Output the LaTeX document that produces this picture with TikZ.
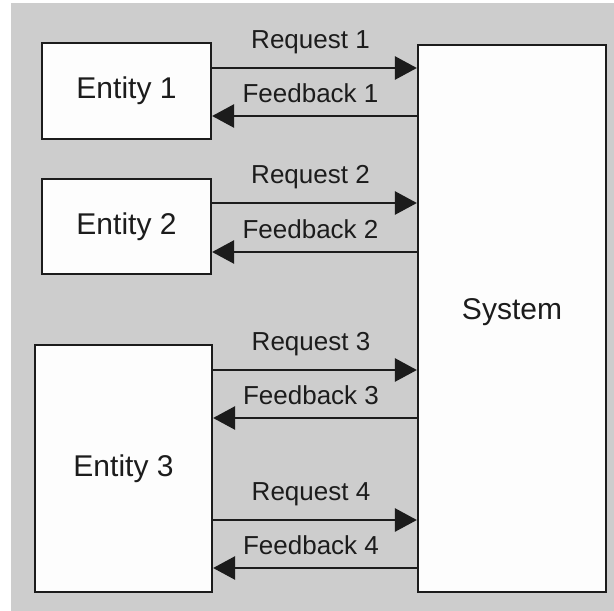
\documentclass[tikz,border=0pt]{standalone}
\usepackage{fontspec}
\setmainfont{Liberation Sans}
\usetikzlibrary{arrows.meta}
\definecolor{panel}{RGB}{205,205,205}
\definecolor{ink}{RGB}{28,28,28}
\definecolor{boxfill}{RGB}{253,253,253}
\tikzset{
  unit/.style={draw=ink, fill=boxfill, line width=2.2pt, inner sep=0pt,
    text=ink, font=\fontsize{30}{36}\selectfont},
  flow/.style={draw=ink, line width=2.7pt,
    -{Triangle[length=22pt, width=23pt]}},
  lbl/.style={text=ink, font=\fontsize{26}{31}\selectfont, inner sep=0pt,
    anchor=base, xshift=-4pt},
  reqlbl/.style={lbl, yshift=19.5pt},
  fblbl/.style={lbl, yshift=13.5pt}
}
\begin{document}
\begin{tikzpicture}[x=1pt, y=-1pt]
  \useasboundingbox (0,0) rectangle (614,611);
  % backdrop panel
  \fill[panel] (11,3) rectangle (614,611);

  % blocks
  \node[unit, minimum width=169pt, minimum height=96pt]  (e1)  at (126.5,91)    {Entity 1};
  \node[unit, minimum width=169pt, minimum height=95pt]  (e2)  at (126.5,226.5) {Entity 2};
  \node[unit, minimum width=177pt, minimum height=247pt] (e3)  at (123.5,468.5) {Entity 3};
  \node[unit, minimum width=188pt, minimum height=547pt] (sys) at (512,318.5)   {};
  \node[text=ink, font=\fontsize{30}{36}\selectfont, inner sep=0pt] (systxt) at (512,312) {System};

  % requests and feedback
  \draw[flow] (e1.east |- 0,68)  -- node[reqlbl] (r1) {Request 1}  (sys.west |- 0,68);
  \draw[flow] (sys.west |- 0,116) -- node[fblbl] (f1) {Feedback 1} (e1.east |- 0,116);

  \draw[flow] (e2.east |- 0,203) -- node[reqlbl] (r2) {Request 2}  (sys.west |- 0,203);
  \draw[flow] (sys.west |- 0,252) -- node[fblbl] (f2) {Feedback 2} (e2.east |- 0,252);

  \draw[flow] (e3.east |- 0,370) -- node[reqlbl] (r3) {Request 3}  (sys.west |- 0,370);
  \draw[flow] (sys.west |- 0,418) -- node[fblbl] (f3) {Feedback 3} (e3.east |- 0,418);

  \draw[flow] (e3.east |- 0,520) -- node[reqlbl] (r4) {Request 4}  (sys.west |- 0,520);
  \draw[flow] (sys.west |- 0,568) -- node[fblbl] (f4) {Feedback 4} (e3.east |- 0,568);
\end{tikzpicture}
\end{document}
